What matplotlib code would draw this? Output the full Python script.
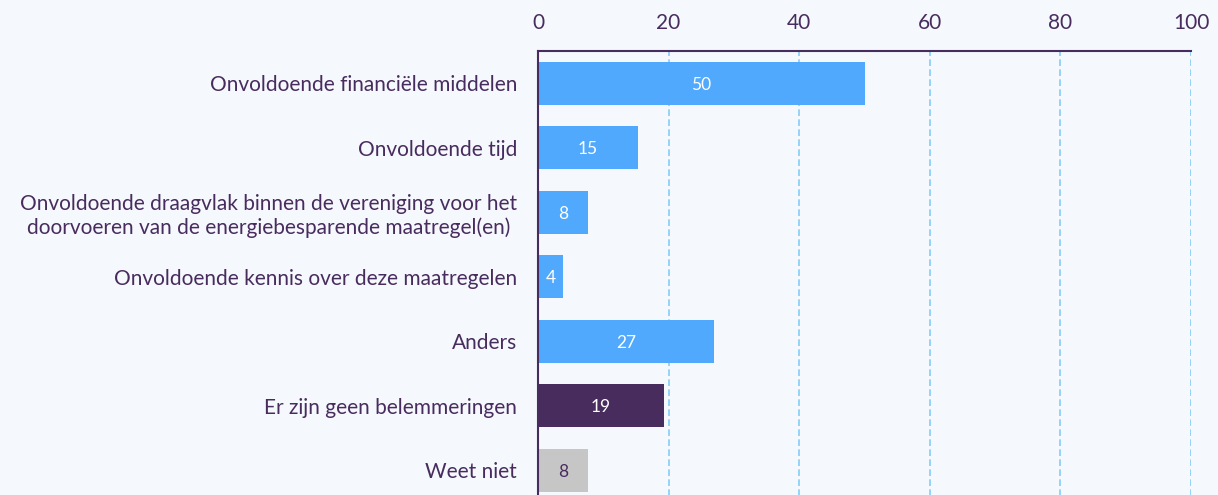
import numpy as np
import matplotlib.pyplot as plt

plt.rcParams['font.family'] = ['Lato', 'DejaVu Sans']

categories = [
    "Onvoldoende financiële middelen",
    "Onvoldoende tijd",
    "Onvoldoende draagvlak binnen de vereniging voor het\ndoorvoeren van de energiebesparende maatregel(en)",
    "Onvoldoende kennis over deze maatregelen",
    "Anders",
    "Er zijn geen belemmeringen",
    "Weet niet",
]
values = [50.1, 15.3, 7.7, 3.8, 26.9, 19.3, 7.7]
value_labels = ["50", "15", "8", "4", "27", "19", "8"]
bar_colors = ["#50a9fd"] * 5 + ["#482c5e", "#c6c6c6"]
label_colors = ["white"] * 6 + ["#482c5e"]
x_ticks = [0, 20, 40, 60, 80, 100]

text_color = "#482c5e"
bg = "#f5f8fd"

fig = plt.figure(figsize=(12.18, 4.95), dpi=100, facecolor=bg)
ax = fig.add_axes([0.4417, -0.0152, 0.5361, 0.9121], facecolor=bg)

y = np.arange(len(categories))
ax.barh(y, values, height=0.66, color=bar_colors, zorder=3)
for yi, v, lab, c in zip(y, values, value_labels, label_colors):
    ax.text(v / 2, yi, lab, ha="center", va="center_baseline", color=c, fontsize=12.5, zorder=4)

ax.set_xlim(0, 100)
ax.set_ylim(len(categories) - 0.5, -0.5)
ax.set_xticks(x_ticks)
ax.set_yticks(y)
ax.set_yticklabels(categories, multialignment="center")
ax.xaxis.tick_top()
ax.tick_params(axis="x", length=0, pad=13, labelsize=15, labelcolor=text_color)
ax.tick_params(axis="y", length=0, pad=15, labelsize=15, labelcolor=text_color)
ax.grid(axis="x", color="#86ccf8", linestyle=(0, (4, 2)), linewidth=1.2, zorder=0)

for s in ["right", "bottom"]:
    ax.spines[s].set_visible(False)
for s in ["top", "left"]:
    ax.spines[s].set_color(text_color)
    ax.spines[s].set_linewidth(1.5)
    ax.spines[s].set_zorder(5)

fig.savefig("out.png", dpi=100, facecolor=bg)
